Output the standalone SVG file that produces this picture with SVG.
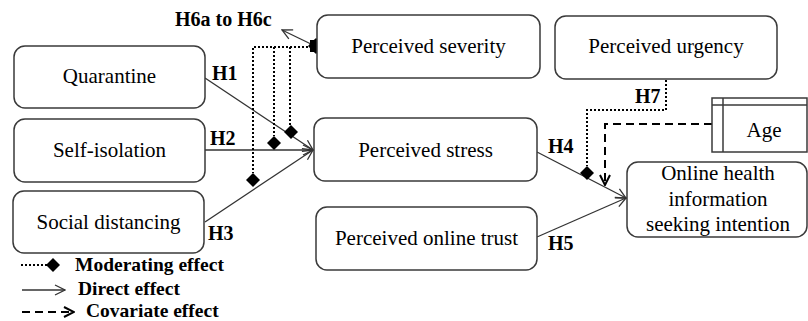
<svg xmlns="http://www.w3.org/2000/svg" width="808" height="321" viewBox="0 0 808 321">
<style>
  .box { fill: #fff; stroke: #3a3a3a; stroke-width: 1.5; }
  .sq { fill: #fff; stroke: #3a3a3a; stroke-width: 1.5; }
  .t { font-family: "Liberation Serif", "Times New Roman", serif; font-size: 21px; fill: #000; text-anchor: middle; }
  .lab { font-family: "Liberation Serif", "Times New Roman", serif; font-size: 20px; font-weight: bold; fill: #000; }
  .leg { font-family: "Liberation Serif", "Times New Roman", serif; font-size: 19.5px; font-weight: bold; fill: #000; }
  .solid { fill: none; stroke: #333; stroke-width: 1.3; }
  .dot { fill: none; stroke: #000; stroke-width: 2; stroke-dasharray: 2 2; }
  .dash { fill: none; stroke: #000; stroke-width: 2; stroke-dasharray: 8 5; }
  .dia { fill: #000; }
</style>
<defs>
  <marker id="open" viewBox="0 0 12 12" refX="11" refY="6" markerWidth="12" markerHeight="12" markerUnits="userSpaceOnUse" orient="auto">
    <path d="M1,1 L11,6 L1,11" fill="none" stroke="#333" stroke-width="1.3"/>
  </marker>
  <marker id="openb" viewBox="0 0 12 12" refX="11" refY="6" markerWidth="12" markerHeight="12" markerUnits="userSpaceOnUse" orient="auto">
    <path d="M1,1 L11,6 L1,11" fill="none" stroke="#000" stroke-width="2"/>
  </marker>
</defs>

<g id="connectors">
  <!-- direct effects -->
  <line class="solid" x1="205" y1="78" x2="313" y2="150" marker-end="url(#open)"/>
  <line class="solid" x1="205" y1="150" x2="313" y2="150" marker-end="url(#open)"/>
  <line class="solid" x1="205" y1="222" x2="313" y2="150" marker-end="url(#open)"/>
  <line class="solid" x1="537" y1="152" x2="626" y2="198" marker-end="url(#open)"/>
  <line class="solid" x1="537" y1="237" x2="626" y2="198" marker-end="url(#open)"/>
  <!-- H6 moderation from perceived severity -->
  <line class="solid" x1="313" y1="45" x2="282" y2="30" marker-end="url(#open)"/>
  <path class="dot" d="M316,47 H253 V173"/>
  <path class="dot" d="M274,47 V136"/>
  <path class="dot" d="M290,47 V125"/>
  <path class="dia" d="M253,173 L260,180 L253,187 L246,180 Z"/>
  <path class="dia" d="M274,136 L281,143 L274,150 L267,143 Z"/>
  <path class="dia" d="M291,125 L298,132 L291,139 L284,132 Z"/>
  <circle class="dia" cx="316" cy="46" r="6.5"/>
  <path class="dia" d="M316,38 L324,46 L316,54 L308,46 Z"/>
  <rect class="dia" x="310" y="40" width="12" height="12"/>
  <!-- H7 moderation from perceived urgency -->
  <path class="dot" d="M666,80 V110 H587 V166"/>
  <path class="dia" d="M587,166 L594,173 L587,180 L580,173 Z"/>
  <!-- covariate -->
  <path class="dash" d="M712,124 H605 V185" marker-end="url(#openb)"/>
</g>

<g id="labels">
  <text class="lab" x="175" y="26">H6a to H6c</text>
  <text class="lab" x="212" y="80">H1</text>
  <text class="lab" x="210" y="145">H2</text>
  <text class="lab" x="208" y="240">H3</text>
  <text class="lab" x="548" y="153">H4</text>
  <text class="lab" x="548" y="250">H5</text>
  <text class="lab" x="635" y="103">H7</text>
</g>

<g id="quarantine">
  <rect class="box" x="14" y="46" width="191" height="62" rx="11"/>
  <text class="t" x="109.5" y="83">Quarantine</text>
</g>
<g id="self-isolation">
  <rect class="box" x="14" y="119" width="191" height="63" rx="11"/>
  <text class="t" x="109.5" y="157">Self-isolation</text>
</g>
<g id="social-distancing">
  <rect class="box" x="13" y="191" width="191" height="62" rx="11"/>
  <text class="t" x="108.5" y="229">Social distancing</text>
</g>
<g id="perceived-severity">
  <rect class="box" x="317" y="15" width="223" height="63" rx="11"/>
  <text class="t" x="428.5" y="53">Perceived severity</text>
</g>
<g id="perceived-stress">
  <rect class="box" x="314" y="118" width="223" height="63" rx="11"/>
  <text class="t" x="425.5" y="157">Perceived stress</text>
</g>
<g id="perceived-online-trust">
  <rect class="box" x="316" y="207" width="221" height="63" rx="11"/>
  <text class="t" x="426.5" y="245">Perceived online trust</text>
</g>
<g id="perceived-urgency">
  <rect class="box" x="555" y="16" width="222" height="63" rx="11"/>
  <text class="t" x="666" y="53">Perceived urgency</text>
</g>
<g id="online-health">
  <rect class="box" x="627" y="162" width="180" height="75" rx="11"/>
  <text class="t" x="718" y="180" font-size="20">Online health</text>
  <text class="t" x="718" y="206" font-size="20">information</text>
  <text class="t" x="718" y="231" font-size="20">seeking intention</text>
</g>
<g id="age">
  <rect class="sq" x="712" y="98" width="95" height="54"/>
  <line x1="723" y1="98" x2="723" y2="152" stroke="#3a3a3a" stroke-width="1.5"/>
  <line x1="712" y1="105" x2="807" y2="105" stroke="#3a3a3a" stroke-width="1.5"/>
  <text class="t" x="764" y="137">Age</text>
</g>

<g id="legend">
  <line class="dot" x1="21" y1="265" x2="47" y2="265"/>
  <path class="dia" d="M53,258 L60,265 L53,272 L46,265 Z"/>
  <text class="leg" x="75" y="271">Moderating effect</text>
  <line class="solid" x1="22" y1="290" x2="65" y2="290" marker-end="url(#open)"/>
  <text class="leg" x="78" y="295">Direct effect</text>
  <line class="dash" x1="22" y1="312" x2="74" y2="312" marker-end="url(#openb)"/>
  <text class="leg" x="86" y="317">Covariate effect</text>
</g>
</svg>
